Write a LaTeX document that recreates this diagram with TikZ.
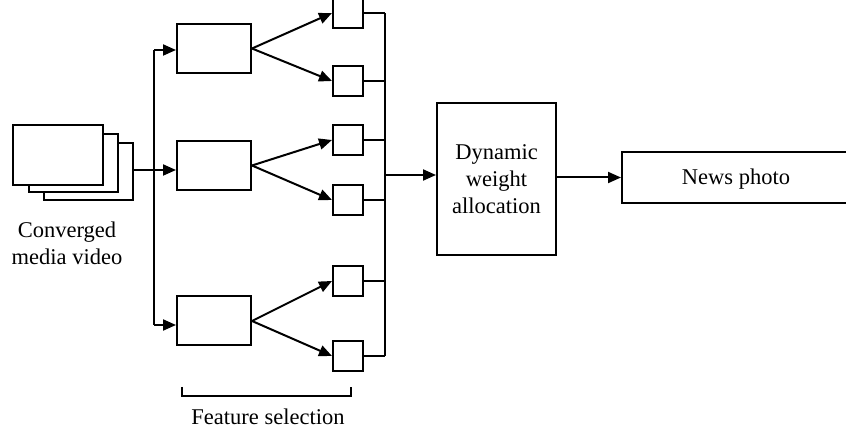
\documentclass[tikz,border=0pt]{standalone}
\usepackage{fontspec}
\setmainfont{Liberation Serif}
\usetikzlibrary{arrows.meta}
\usetikzlibrary{positioning}

\tikzset{box/.style={draw,fill=white,inner sep=0pt},
  feat/.style={box,minimum width=74pt,minimum height=49pt},
  sbox/.style={box,minimum width=30pt,minimum height=30pt},
  lbl/.style={align=center,font=\fontsize{22.5}{27}\selectfont}}

\begin{document}
\begin{tikzpicture}[x=1pt,y=-1pt,line width=2pt,line join=miter,>={Triangle[length=13pt,width=11pt]}]
\useasboundingbox (0,0) rectangle (846,435);
\clip (0,0) rectangle (846,435);
% converged media video (stacked frames)
\node[box,minimum width=89pt,minimum height=57pt] (v3) at (88,171.5) {};
\node[box,minimum width=89pt,minimum height=58pt] (v2) at (73,163.5) {};
\node[box,minimum width=90pt,minimum height=60pt] (v1) at (58,155) {};
\node[lbl] (vlbl) at (67,243) {Converged\\media video};
% feature boxes
\node[feat] (f1) at (214,48.5) {};
\node[feat] (f2) at (214,165.5) {};
\node[feat] (f3) at (214,321) {};
% small boxes
\node[sbox] (s1) at (348,13) {};
\node[sbox] (s2) at (348,81) {};
\node[sbox] (s3) at (348,140) {};
\node[sbox] (s4) at (348,200) {};
\node[sbox] (s5) at (348,281) {};
\node[sbox] (s6) at (348,356) {};
% dynamic weight / news photo
\node[box,lbl,minimum width=119pt,minimum height=152pt] (dw) at (496.5,179) {Dynamic\\weight\\allocation};
\node[box,lbl,minimum width=228pt,minimum height=51pt,text height=20pt,text depth=5pt] (np) at (736,177.5) {News photo};
% left bus
\coordinate (b1) at (154,50);
\coordinate (b2) at (154,170);
\coordinate (b3) at (154,325);
\draw (v3.east |- b2) -- (b2);
\draw (b1) -- (b3);
\draw[->] (b1) -- (f1.west |- b1);
\draw[->] (b2) -- (f2.west |- b2);
\draw[->] (b3) -- (f3.west |- b3);
% feature selection arrows
\foreach \f/\a/\b in {f1/s1/s2,f2/s3/s4,f3/s5/s6}{
  \draw[->] (\f.east) -- (\a.west);
  \draw[->] (\f.east) -- (\b.west);
}
% right bus
\coordinate (r1) at (385,13);
\coordinate (r2) at (385,356);
\coordinate (r0) at (385,175);
\draw (r1) -- (r2);
\foreach \s in {s1,s2,s3,s4,s5,s6}
  \draw (\s.east) -- (\s.east -| r1);
\draw[->] (r0) -- (dw.west |- r0);
\draw[->] (dw.east |- np.west) -- (np.west);
% bracket
\coordinate (k1) at (182,387);
\coordinate (k2) at (351,387);
\draw (k1) -- ++(0,9) -| (k2);
\node[lbl] (fs) at (268,417) {Feature selection};
\end{tikzpicture}
\end{document}
